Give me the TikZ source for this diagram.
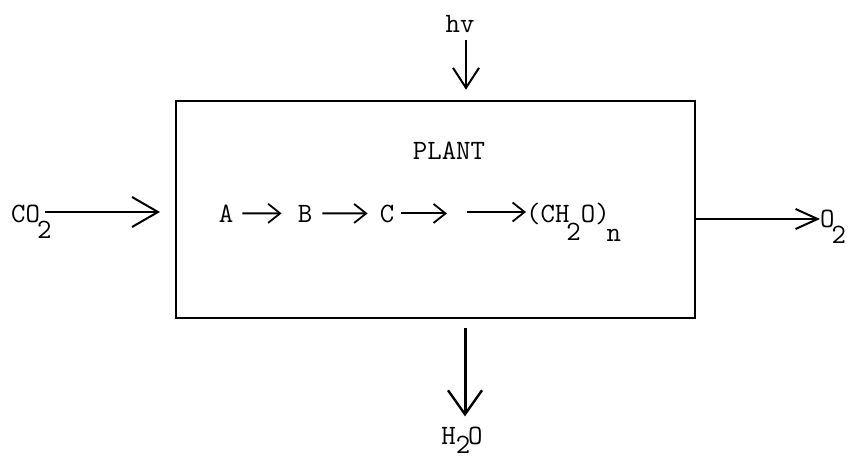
\documentclass[tikz,border=0pt]{standalone}
\usepackage{fontspec}
\usetikzlibrary{arrows.meta}
\newcommand{\lowsub}[2][-17pt]{\kern-3pt\raisebox{#1}{#2}}
\begin{document}
\begin{tikzpicture}[x=1pt,y=-1pt,
  txt/.style={inner sep=0pt,font=\ttfamily\fontsize{28}{30}\selectfont\addfontfeature{FakeBold=2.5}},
  conn/.style={line width=2pt},
  bigtip/.style={-{Straight Barb[length=26pt,width=30pt,line width=2pt]}},
  smalltip/.style={-{Straight Barb[length=12pt,width=19pt,line width=1.8pt]}},
  boxstyle/.style={draw,line width=2.6pt,minimum width=519pt,minimum height=217pt,inner sep=0pt}]
\useasboundingbox (0,0) rectangle (855,460);
\fill[white] (0,0) rectangle (855,460);
% box
\node[boxstyle] (box) at (435.5,209.5) {};
\node[txt] (plant) at (449,150.5) {PLANT};
% top
\node[txt,anchor=base] (hv) at (460,33) {hv};
\draw[conn,-{Straight Barb[length=20pt,width=26pt,line width=2pt]},shorten <=7pt,shorten >=10pt] (hv.south -| box.north) ++(30.5,0) -- ([xshift=30.5pt]box.north);
% left
\node[txt,anchor=base west] (co2) at (11,222) {CO\lowsub{2}};
\coordinate (co2end) at (160,212);
\draw[conn,bigtip] (co2.east |- co2end) ++(-7,0) -- (co2end);
% right
\node[txt,anchor=base west] (o2) at (820,227) {O\lowsub[-16pt]{2}};
\draw[conn,-{Straight Barb[length=22pt,width=20pt,line width=2pt]}] (box.east |- 0,219) -- (o2.west |- 0,219);
% bottom
\node[txt,anchor=base] (h2o) at (462,444) {H\raisebox{-9pt}{2}\kern-2pt O};
\draw[line width=3pt,-{Straight Barb[length=24pt,width=34pt,line width=2.4pt]},shorten <=9pt,shorten >=10pt] ([xshift=29.5pt]box.south) -- (h2o.north -| 465,0);
% chain
\node[txt,anchor=base] (a) at (226,222) {A};
\node[txt,anchor=base] (b) at (305,222) {B};
\node[txt,anchor=base] (c) at (387,222) {C};
\coordinate (cend) at (447,212);
\coordinate (lstart) at (467,212);
\node[txt,anchor=base west] (ch2o) at (526,222) {(CH\lowsub[-18pt]{2}O)\lowsub[-20pt]{n}};
\draw[conn,smalltip,shorten <=9pt,shorten >=16pt] (a.east) -- (b.west);
\draw[conn,smalltip,shorten <=10pt,shorten >=12pt] (b.east) -- (c.west);
\draw[conn,smalltip,shorten <=7pt] (c.east) -- (c.east -| cend);
\draw[conn,smalltip] (lstart) -- (lstart -| ch2o.west);
\end{tikzpicture}
\end{document}
